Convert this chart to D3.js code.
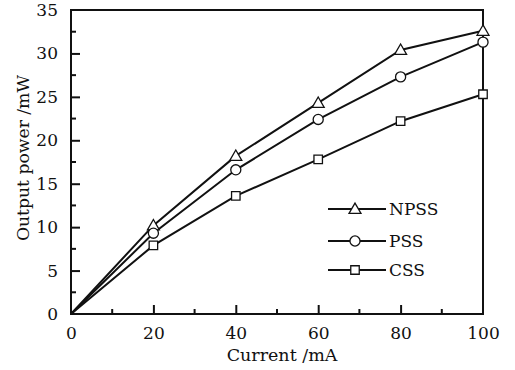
<!DOCTYPE html>
<html>
<head>
<meta charset="utf-8">
<script src="https://cdn.jsdelivr.net/npm/d3@7"></script>
<style>
  html, body { margin: 0; padding: 0; background: #fff; }
  svg { display: block; }
  text { font-family: "DejaVu Serif", serif; fill: #111; }
</style>
</head>
<body>
<svg id="chart" width="515" height="370"></svg>
<script>
// Drive current (mA)
const current = [0, 20, 40, 60, 80, 100];
// Output power (mW) for each structure
const npss = [0, 10.2, 18.2, 24.3, 30.4, 32.6];
const pss  = [0, 9.3, 16.6, 22.4, 27.3, 31.3];
const css  = [0, 7.9, 13.6, 17.8, 22.2, 25.3];
const seriesNames = ["NPSS", "PSS", "CSS"];
const xTicks = [0, 20, 40, 60, 80, 100];
const yTicks = [0, 5, 10, 15, 20, 25, 30, 35];

const svg = d3.select("#chart");
const m = { left: 71, right: 483, top: 10, bottom: 314 };

const x = d3.scaleLinear().domain([0, 100]).range([m.left, m.right]);
const y = d3.scaleLinear().domain([0, 35]).range([m.bottom, m.top]);

const ink = "#111";
const fs = 17;

// frame
svg.append("rect")
  .attr("x", m.left).attr("y", m.top)
  .attr("width", m.right - m.left).attr("height", m.bottom - m.top)
  .attr("fill", "none").attr("stroke", ink).attr("stroke-width", 2);

// x axis: inward ticks, major + minor
const xAxis = d3.axisBottom(x).tickValues(xTicks).tickSizeInner(-9).tickSizeOuter(0).tickPadding(13);
const gx = svg.append("g").attr("transform", `translate(0,${m.bottom})`).call(xAxis);
gx.select(".domain").remove();
gx.selectAll("line").attr("stroke", ink).attr("stroke-width", 2);
gx.selectAll("text").attr("font-size", fs).attr("font-family", "DejaVu Serif");
gx.selectAll(".tick").filter(d => d === 100 || d === 0).select("line").remove();

const xMinor = d3.range(10, 100, 20);
svg.append("g").selectAll("line").data(xMinor).join("line")
  .attr("x1", d => x(d)).attr("x2", d => x(d))
  .attr("y1", m.bottom).attr("y2", m.bottom - 5)
  .attr("stroke", ink).attr("stroke-width", 2);

// y axis
const yAxis = d3.axisLeft(y).tickValues(yTicks).tickSizeInner(-9).tickSizeOuter(0).tickPadding(13);
const gy = svg.append("g").attr("transform", `translate(${m.left},0)`).call(yAxis);
gy.select(".domain").remove();
gy.selectAll("line").attr("stroke", ink).attr("stroke-width", 2);
gy.selectAll("text").attr("font-size", fs).attr("font-family", "DejaVu Serif");
gy.selectAll(".tick").filter(d => d === 0 || d === 35).select("line").remove();

const yMinor = d3.range(2.5, 35, 5);
svg.append("g").selectAll("line").data(yMinor).join("line")
  .attr("x1", m.left).attr("x2", m.left + 5)
  .attr("y1", d => y(d)).attr("y2", d => y(d))
  .attr("stroke", ink).attr("stroke-width", 2);

// axis titles
svg.append("text")
  .attr("x", 282).attr("y", 361)
  .attr("text-anchor", "middle").attr("font-size", 17.5)
  .text("Current /mA");
svg.append("text")
  .attr("transform", `translate(29,158) rotate(-90)`)
  .attr("text-anchor", "middle").attr("font-size", 17.2)
  .text("Output power /mW");

// markers
const triangle = d3.symbol().type(d3.symbolTriangle).size(62);
const circle = d3.symbol().type(d3.symbolCircle).size(80);
const square = d3.symbol().type(d3.symbolSquare).size(72);
const shapes = [triangle, circle, square];
const data = [npss, pss, css];

const line = d3.line().x((d, i) => x(current[i])).y(d => y(d));

data.forEach((vals, k) => {
  svg.append("path").datum(vals)
    .attr("d", line).attr("fill", "none")
    .attr("stroke", ink).attr("stroke-width", 2);
});
data.forEach((vals, k) => {
  svg.append("g").selectAll("path")
    .data(vals.map((v, i) => [current[i], v]).filter(d => d[0] > 0))
    .join("path")
    .attr("transform", d => `translate(${x(d[0])},${y(d[1]) + (k === 0 ? 1 : 0)})`)
    .attr("d", shapes[k])
    .attr("fill", "#fff").attr("stroke", ink).attr("stroke-width", 1.3);
});

// legend
const legY = [209, 241, 270];
const lg = svg.append("g");
seriesNames.forEach((name, k) => {
  lg.append("line")
    .attr("x1", 328).attr("x2", 386)
    .attr("y1", legY[k]).attr("y2", legY[k])
    .attr("stroke", ink).attr("stroke-width", 2);
  lg.append("path")
    .attr("transform", `translate(355,${legY[k] + (k === 0 ? 1 : 0)})`)
    .attr("d", shapes[k])
    .attr("fill", "#fff").attr("stroke", ink).attr("stroke-width", 1.3);
  lg.append("text")
    .attr("x", 389).attr("y", legY[k] + 6)
    .attr("font-size", fs)
    .text(name);
});
</script>
</body>
</html>
